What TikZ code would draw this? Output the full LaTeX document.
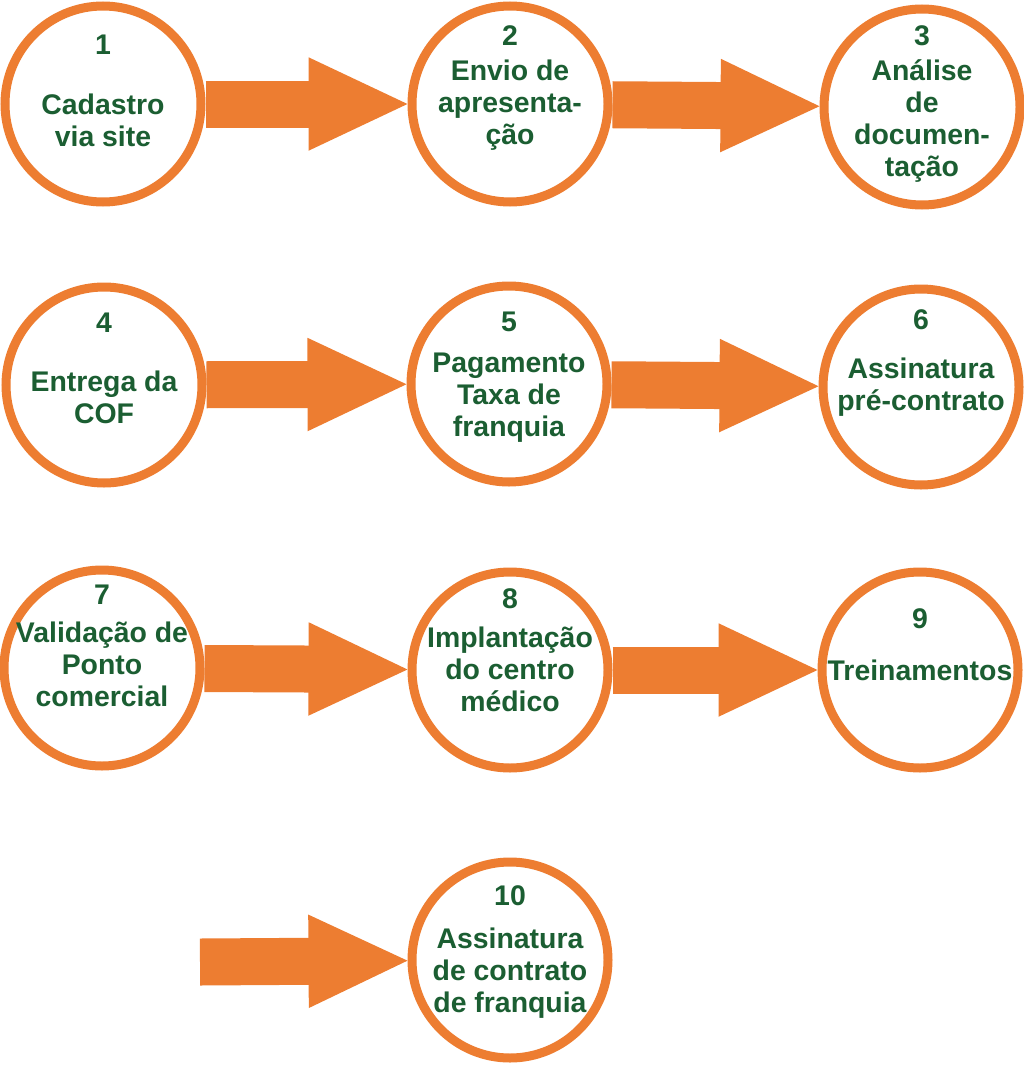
\documentclass[tikz,border=0pt]{standalone}
\usepackage{fontspec}
\setmainfont{Liberation Sans}
\usetikzlibrary{arrows.meta}

\definecolor{orangeline}{RGB}{237,125,49}
\definecolor{greentext}{RGB}{27,94,50}

\begin{document}
\begin{tikzpicture}[x=1pt,y=-1pt,
  every node/.style={inner sep=0pt},
  stage/.style={circle,draw=orangeline,line width=9pt,fill=white,minimum size=196pt},
  stagetext/.style={anchor=north,align=center,text=greentext,
    font=\fontsize{28.4}{32}\selectfont\bfseries},
  fatarrow/.style={orangeline,line width=47pt,
    -{Triangle[length=99pt,width=93pt,line width=2pt]}}]
  \useasboundingbox (0,0) rectangle (1024,1065);

  \node[stage] (s1) at (103,104) {};
  \node[stage] (s2) at (510,104) {};
  \node[stage] (s3) at (922,107) {};
  \node[stage] (s4) at (104,385) {};
  \node[stage] (s5) at (509,384) {};
  \node[stage] (s6) at (921,387) {};
  \node[stage] (s7) at (102,668) {};
  \node[stage] (s8) at (510,670) {};
  \node[stage] (s9) at (920,670) {};
  \node[stage] (s10) at (510,960) {};

  \node[stagetext] (t1) at (103,35) {1\\[28pt]Cadastro\\via site};
  \node[stagetext] (t2) at (510,25) {2\\[3pt]Envio de\\apresenta-\\ção};
  \node[stagetext] (t3) at (922,25) {3\\[3pt]Análise\\de\\documen-\\tação};
  \node[stagetext] (t4) at (104,313) {4\\[27pt]Entrega da\\COF};
  \node[stagetext] (t5) at (509,312) {5\\[9pt]Pagamento\\Taxa de\\franquia};
  \node[stagetext] (t6) at (921,309) {6\\[17pt]Assinatura\\pré-contrato};
  \node[stagetext] (t7) at (102,585) {7\\[6pt]Validação de\\Ponto\\comercial};
  \node[stagetext] (t8) at (510,588) {8\\[7pt]Implantação\\do centro\\médico};
  \node[stagetext] (t9) at (920,608) {9\\[20pt]Treinamentos};
  \node[stagetext] (t10) at (510,885) {10\\[11pt]Assinatura\\de contrato\\de franquia};

  \coordinate (a10) at (200,962);
  \draw[fatarrow] (s1) -- (s2);
  \draw[fatarrow] (s2) -- (s3);
  \draw[fatarrow] (s4) -- (s5);
  \draw[fatarrow] (s5) -- (s6);
  \draw[fatarrow] (s7) -- (s8);
  \draw[fatarrow] (s8) -- (s9);
  \draw[fatarrow] (a10) -- (s10);
\end{tikzpicture}
\end{document}
